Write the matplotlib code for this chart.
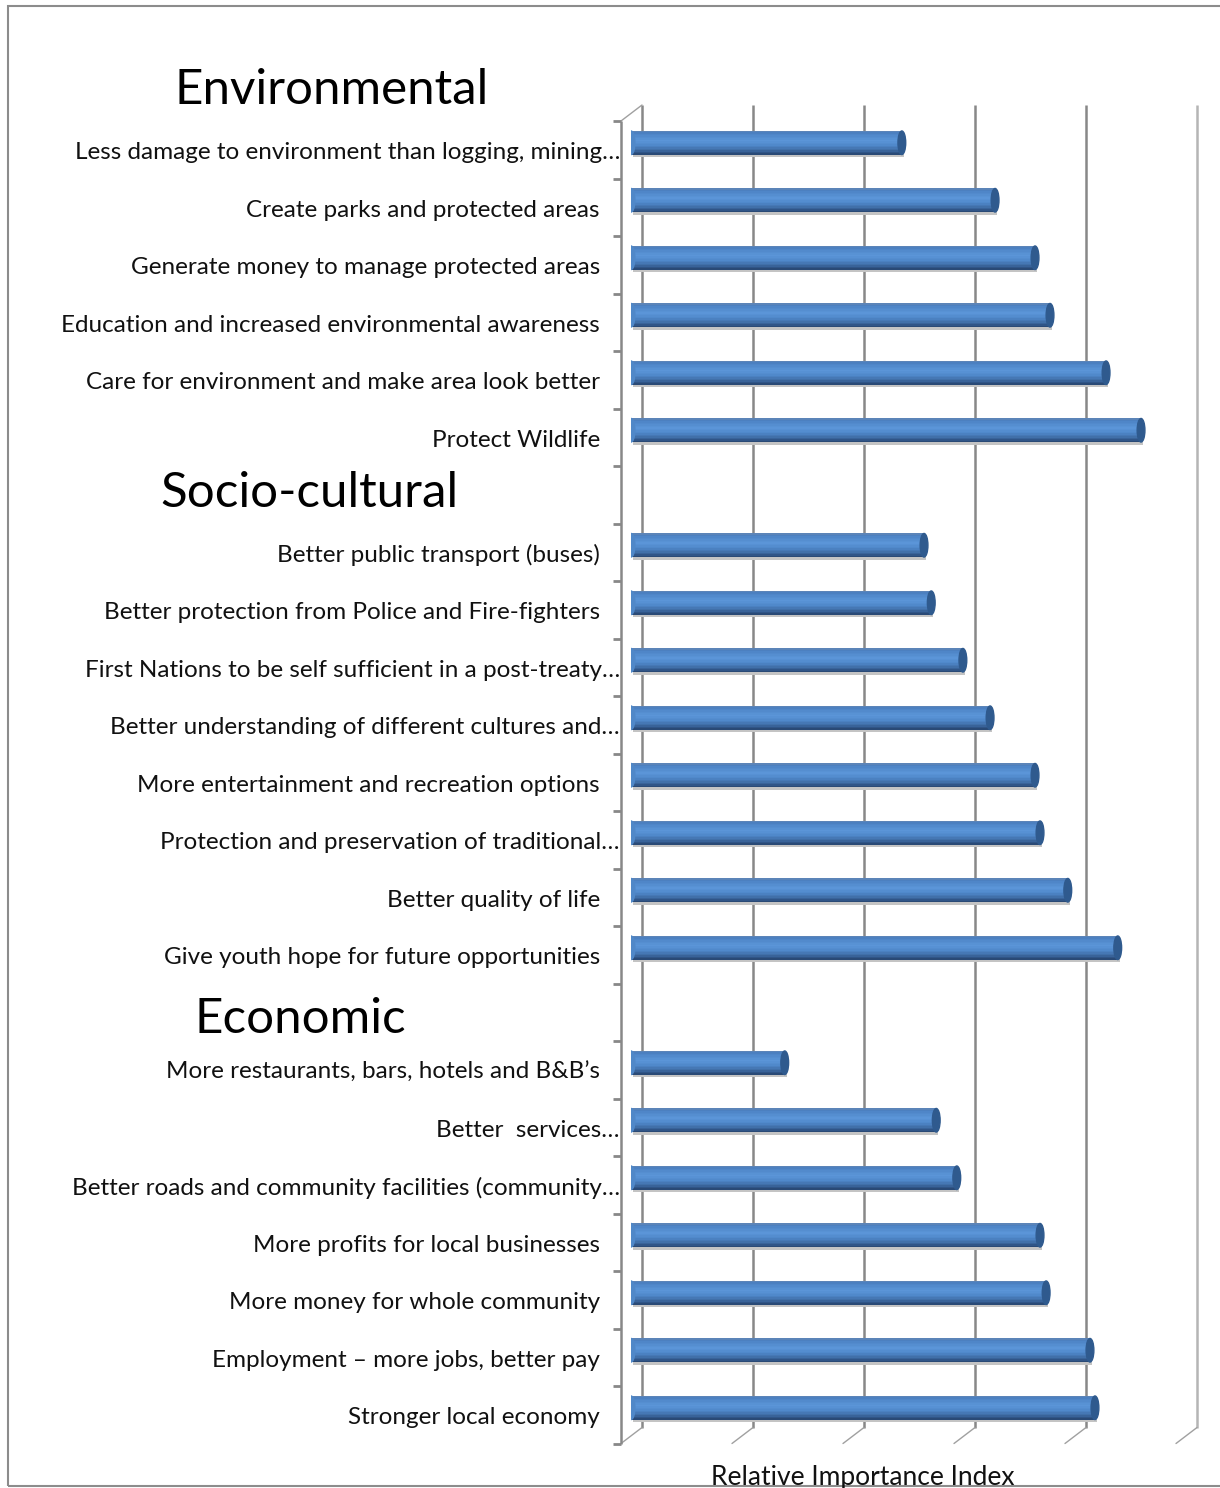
import matplotlib
matplotlib.use("Agg")
import matplotlib.pyplot as plt
from matplotlib.transforms import ScaledTranslation, blended_transform_factory
from matplotlib.patches import Ellipse, Rectangle, ConnectionPatch
from matplotlib.colors import to_rgb
import numpy as np

# ---------------- data ----------------
section_titles = ["Environmental", "Socio-cultural", "Economic"]

env_labels = [
    "Less damage to environment than logging, mining\u2026",
    "Create parks and protected areas",
    "Generate money to manage protected areas",
    "Education and increased environmental awareness",
    "Care for environment and make area look better",
    "Protect Wildlife",
]
env_values = [0.488, 0.656, 0.728, 0.755, 0.856, 0.919]

soc_labels = [
    "Better public transport (buses)",
    "Better protection from Police and Fire-fighters",
    "First Nations to be self sufficient in a post-treaty\u2026",
    "Better understanding of different cultures and\u2026",
    "More entertainment and recreation options",
    "Protection and preservation of traditional\u2026",
    "Better quality of life",
    "Give youth hope for future opportunities",
]
soc_values = [0.528, 0.541, 0.598, 0.647, 0.728, 0.737, 0.787, 0.877]

eco_labels = [
    "More restaurants, bars, hotels and B&B\u2019s",
    "Better  services\u2026",
    "Better roads and community facilities (community\u2026",
    "More profits for local businesses",
    "More money for whole community",
    "Employment \u2013 more jobs, better pay",
    "Stronger local economy",
]
eco_values = [0.277, 0.550, 0.587, 0.737, 0.748, 0.827, 0.836]

grid_values = [0.0, 0.2, 0.4, 0.6, 0.8, 1.0]
x_label = "Relative Importance Index"

# ---------------- layout ----------------
FONT = ["Lato", "DejaVu Sans"]
plt.rcParams["font.family"] = FONT

W, H = 1220, 1488
fig = plt.figure(figsize=(W / 100, H / 100), dpi=100)


def fx(px):
    return px / W


def fy(py):
    return 1 - py / H


ax = fig.add_axes([fx(631), fy(1436.5), fx(1186) - fx(631), fy(114) - fy(1436.5)])
ax.set_xlim(0, 1)
ax.set_ylim(22.5, -0.5)
ax.axis("off")

sections = [(env_labels, env_values), (soc_labels, soc_values), (eco_labels, eco_values)]
rows_labels, rows_values, header_rows = [], [], []
r = -1
for labels, values in sections:
    header_rows.append(r)
    r += 1
    for lab, val in zip(labels, values):
        rows_labels.append((r, lab))
        rows_values.append((r, val))
        r += 1
n_rows = r

pt = fig.dpi_scale_trans
front = ax.transData + ScaledTranslation(-10 / 100, -7 / 100, pt)
back = ax.transData + ScaledTranslation(11 / 100, 9 / 100, pt)
label_tr = ax.transData + ScaledTranslation(-31 / 100, -10 / 100, pt)

grid_col = "#888888"
ytop, ybot = -0.5, n_rows - 0.5

for v in grid_values:
    c = "#b5b5b5" if v == grid_values[-1] else grid_col
    ax.plot([v, v], [ytop, ybot], transform=back, color=c, lw=1.8,
            clip_on=False, zorder=1, solid_capstyle="butt")

for v in grid_values:
    ax.add_artist(ConnectionPatch(xyA=(v, ybot), coordsA=front, xyB=(v, ybot), coordsB=back,
                                  color="#a0a0a0", lw=1.0, zorder=1))
ax.add_artist(ConnectionPatch(xyA=(0, ytop), coordsA=front, xyB=(0, ytop), coordsB=back,
                              color="#a0a0a0", lw=1.0, zorder=1))

ax.plot([0, 0], [ytop, ybot], transform=front, color=grid_col, lw=1.8,
        clip_on=False, zorder=1, solid_capstyle="butt")
bounds = [k - 0.5 for k in range(n_rows + 1)]
ax.plot([0] * len(bounds), bounds, transform=front, ls="none", marker=0,
        markersize=6, markeredgewidth=2, color=grid_col, clip_on=False, zorder=1)

# cylinder shading profile (top -> bottom)
profile_pos = [0.0, 0.06, 0.15, 0.40, 0.60, 0.80, 0.92, 1.0]
profile_col = ["#6E8DB5", "#4A7CBB", "#4F86C8", "#5B95D8", "#5089CB", "#3F6DA6", "#2E5283", "#27456E"]
prof_rgb = np.array([to_rgb(c) for c in profile_col])
n_strips = 16
bh = 0.41
strip_h = bh / n_strips
strip_cols = []
for i in range(n_strips):
    t = (i + 0.5) / n_strips
    strip_cols.append(tuple(np.interp(t, profile_pos, prof_rgb[:, k]) for k in range(3)))

for y, v in rows_values:
    ax.barh(y + 0.05, v, height=bh, left=0.004, color="#c4c4c4", zorder=2)
    for i, c in enumerate(strip_cols):
        yc = y - bh / 2 + (i + 0.5) * strip_h
        ax.barh(yc, v, height=strip_h * 1.05, color=c, zorder=3, linewidth=0)
    ax.add_patch(Ellipse((0.0, y), width=0.014, height=bh, color="#5088C8", zorder=3))
    ax.add_patch(Ellipse((v, y), width=0.014, height=bh, color="#2F5A8E", zorder=4))

for y, lab in rows_labels:
    dx = 20 / 100 if lab.endswith("\u2026") else 0
    tr = label_tr + ScaledTranslation(dx, 0, pt)
    ax.text(0, y, lab, transform=tr, ha="right", va="center",
            fontsize=17.5, color="#111111", clip_on=False)

hdr_x = [332, 309, 300]
hdr_tr = blended_transform_factory(fig.transFigure, ax.transData) + ScaledTranslation(0, -5 / 100, pt)
for (hx, hr, title) in zip(hdr_x, header_rows, section_titles):
    ax.text(fx(hx), hr + (0.15 if title == "Economic" else 0), title, transform=hdr_tr,
            ha="center", va="center", fontsize=35.5, color="#000000", clip_on=False)

fig.text(fx(863), fy(1477), x_label, ha="center", va="center", fontsize=19, color="#111111")

fig.add_artist(Rectangle((fx(8), fy(1486)), fx(1240) - fx(8), fy(6) - fy(1486),
                         transform=fig.transFigure, fill=False, edgecolor="#8c8c8c",
                         lw=1.5, clip_on=False))

fig.savefig("out.png", dpi=100, facecolor="white")
